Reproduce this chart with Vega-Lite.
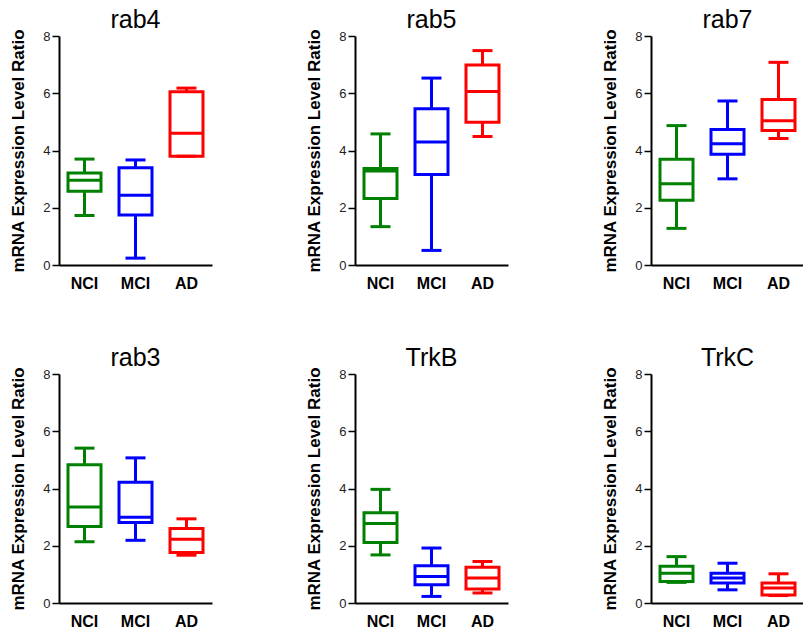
{
  "$schema": "https://vega.github.io/schema/vega-lite/v6.json",
  "padding": {"left": 9, "top": 7, "right": 0, "bottom": 0},
  "background": "white",
  "data": {"values": [
    {"gene": "rab4", "group": "NCI", "min": 1.73, "q1": 2.58, "median": 2.96, "q3": 3.21, "max": 3.70},
    {"gene": "rab4", "group": "MCI", "min": 0.24, "q1": 1.75, "median": 2.44, "q3": 3.40, "max": 3.67},
    {"gene": "rab4", "group": "AD", "min": 3.80, "q1": 3.80, "median": 4.60, "q3": 6.05, "max": 6.18},
    {"gene": "rab5", "group": "NCI", "min": 1.34, "q1": 2.32, "median": 3.28, "q3": 3.37, "max": 4.58},
    {"gene": "rab5", "group": "MCI", "min": 0.51, "q1": 3.16, "median": 4.30, "q3": 5.46, "max": 6.53},
    {"gene": "rab5", "group": "AD", "min": 4.49, "q1": 4.99, "median": 6.06, "q3": 6.99, "max": 7.49},
    {"gene": "rab7", "group": "NCI", "min": 1.28, "q1": 2.26, "median": 2.84, "q3": 3.69, "max": 4.87},
    {"gene": "rab7", "group": "MCI", "min": 3.01, "q1": 3.87, "median": 4.24, "q3": 4.73, "max": 5.73},
    {"gene": "rab7", "group": "AD", "min": 4.42, "q1": 4.70, "median": 5.04, "q3": 5.78, "max": 7.08},
    {"gene": "rab3", "group": "NCI", "min": 2.14, "q1": 2.67, "median": 3.35, "q3": 4.83, "max": 5.41},
    {"gene": "rab3", "group": "MCI", "min": 2.19, "q1": 2.81, "median": 3.00, "q3": 4.22, "max": 5.07},
    {"gene": "rab3", "group": "AD", "min": 1.67, "q1": 1.76, "median": 2.23, "q3": 2.60, "max": 2.94},
    {"gene": "TrkB", "group": "NCI", "min": 1.68, "q1": 2.11, "median": 2.78, "q3": 3.15, "max": 3.97},
    {"gene": "TrkB", "group": "MCI", "min": 0.23, "q1": 0.64, "median": 0.93, "q3": 1.30, "max": 1.92},
    {"gene": "TrkB", "group": "AD", "min": 0.35, "q1": 0.49, "median": 0.87, "q3": 1.25, "max": 1.45},
    {"gene": "TrkC", "group": "NCI", "min": 0.72, "q1": 0.75, "median": 1.04, "q3": 1.28, "max": 1.62},
    {"gene": "TrkC", "group": "MCI", "min": 0.46, "q1": 0.70, "median": 0.87, "q3": 1.04, "max": 1.39},
    {"gene": "TrkC", "group": "AD", "min": 0.26, "q1": 0.28, "median": 0.52, "q3": 0.70, "max": 1.02}
  ]},
  "facet": {
    "field": "gene", "type": "nominal",
    "sort": ["rab4", "rab5", "rab7", "rab3", "TrkB", "TrkC"],
    "header": {"title": null, "labelFont": "Liberation Sans", "labelFontSize": 25, "labelColor": "black", "labelPadding": -4}
  },
  "columns": 3,
  "spacing": {"column": 93, "row": 54},
  "resolve": {"axis": {"x": "independent", "y": "independent"}},
  "spec": {
    "width": 153,
    "height": 229,
    "encoding": {
      "x": {
        "field": "group", "type": "nominal", "sort": ["NCI", "MCI", "AD"],
        "scale": {"paddingInner": 0, "paddingOuter": 0},
        "axis": {"title": null, "labelAngle": 0, "ticks": false, "labelFontWeight": "bold", "labelFontSize": 16, "labelColor": "black", "labelPadding": 10, "domainColor": "black", "domainWidth": 2}
      }
    },
    "layer": [
      {
        "mark": {"type": "rule", "strokeWidth": 3, "opacity": 1},
        "encoding": {
          "y": {"field": "min", "type": "quantitative", "scale": {"domain": [0, 8]}, "title": "mRNA Expression Level Ratio",
            "axis": {"grid": false, "values": [0, 2, 4, 6, 8], "domainColor": "black", "domainWidth": 2, "tickColor": "black", "tickWidth": 1.5, "tickSize": 7, "labelFontSize": 13, "labelColor": "#222222", "labelPadding": 2, "titleFontSize": 17, "titleFontWeight": "bold", "titleColor": "black", "titlePadding": 15}},
          "y2": {"field": "max"},
          "color": {"field": "group", "type": "nominal", "scale": {"domain": ["NCI", "MCI", "AD"], "range": ["#008000", "#0000ff", "#ff0000"]}, "legend": null}
        }
      },
      {
        "mark": {"type": "bar", "fill": "white", "strokeWidth": 3, "size": 33, "opacity": 1},
        "encoding": {
          "y": {"field": "q1", "type": "quantitative", "scale": {"domain": [0, 8]}, "title": "mRNA Expression Level Ratio"},
          "y2": {"field": "q3"},
          "stroke": {"field": "group", "type": "nominal", "scale": {"domain": ["NCI", "MCI", "AD"], "range": ["#008000", "#0000ff", "#ff0000"]}, "legend": null}
        }
      },
      {
        "mark": {"type": "tick", "thickness": 3, "size": 33, "opacity": 1},
        "encoding": {
          "y": {"field": "median", "type": "quantitative", "scale": {"domain": [0, 8]}, "title": "mRNA Expression Level Ratio"},
          "color": {"field": "group", "type": "nominal", "scale": {"domain": ["NCI", "MCI", "AD"], "range": ["#008000", "#0000ff", "#ff0000"]}, "legend": null}
        }
      },
      {
        "mark": {"type": "tick", "thickness": 3, "size": 20, "opacity": 1},
        "encoding": {
          "y": {"field": "min", "type": "quantitative", "scale": {"domain": [0, 8]}, "title": "mRNA Expression Level Ratio"},
          "color": {"field": "group", "type": "nominal", "scale": {"domain": ["NCI", "MCI", "AD"], "range": ["#008000", "#0000ff", "#ff0000"]}, "legend": null}
        }
      },
      {
        "mark": {"type": "tick", "thickness": 3, "size": 20, "opacity": 1},
        "encoding": {
          "y": {"field": "max", "type": "quantitative", "scale": {"domain": [0, 8]}, "title": "mRNA Expression Level Ratio"},
          "color": {"field": "group", "type": "nominal", "scale": {"domain": ["NCI", "MCI", "AD"], "range": ["#008000", "#0000ff", "#ff0000"]}, "legend": null}
        }
      }
    ]
  },
  "config": {
    "font": "Liberation Sans",
    "view": {"stroke": null}
  }
}
